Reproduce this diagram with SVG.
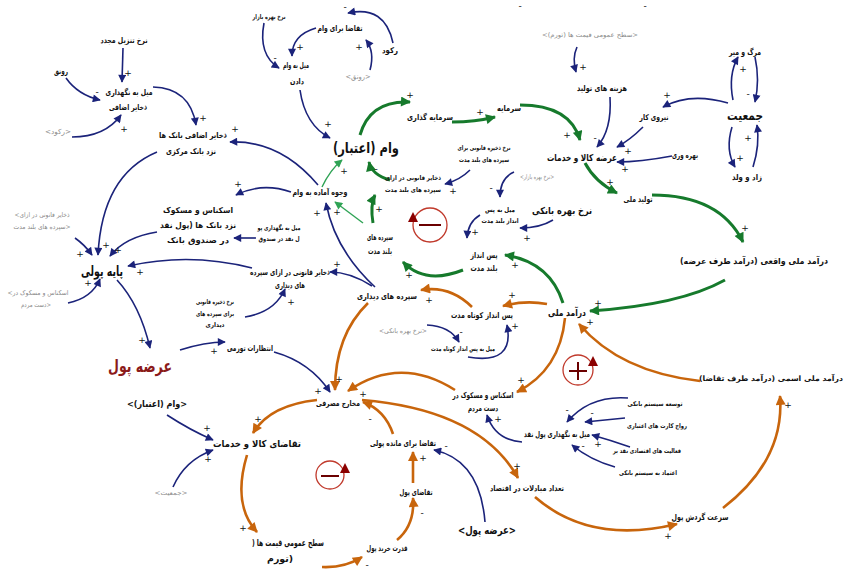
<svg xmlns="http://www.w3.org/2000/svg" width="848" height="572" viewBox="0 0 848 572">
<defs>
<style>
.t{font-family:"DejaVu Sans",sans-serif;text-anchor:middle;dominant-baseline:central;direction:rtl;fill:#111;font-weight:bold;font-size:8px}
.s7{font-size:6.5px}.s9{font-size:8.5px}.m{font-size:9.5px}
.g{fill:#8a8a8a;font-weight:normal;font-size:7px}
.p{font-family:"DejaVu Sans",sans-serif;font-size:9px;text-anchor:middle;dominant-baseline:central;fill:#111}
.b{fill:none;stroke:#1b237a;stroke-width:1.6;marker-end:url(#mb)}
.gr{fill:none;stroke:#167a2c;stroke-width:3;marker-end:url(#mg)}
.gt{fill:none;stroke:#2fa355;stroke-width:1.4;marker-end:url(#mgt)}
.o{fill:none;stroke:#c8650c;stroke-width:2.6;marker-end:url(#mo)}
.lp{fill:none;stroke:#c0392b;stroke-width:1.3}
</style>
<marker id="mb" viewBox="0 0 10 10" refX="9" refY="5" markerWidth="10" markerHeight="8" markerUnits="userSpaceOnUse" orient="auto"><path d="M0,0 L10,5 L0,10 z" fill="#1b237a"/></marker>
<marker id="mg" viewBox="0 0 10 10" refX="9" refY="5" markerWidth="12" markerHeight="10" markerUnits="userSpaceOnUse" orient="auto"><path d="M0,0 L10,5 L0,10 z" fill="#167a2c"/></marker>
<marker id="mgt" viewBox="0 0 10 10" refX="9" refY="5" markerWidth="10" markerHeight="8" markerUnits="userSpaceOnUse" orient="auto"><path d="M0,0 L10,5 L0,10 z" fill="#2fa355"/></marker>
<marker id="mo" viewBox="0 0 10 10" refX="9" refY="5" markerWidth="12" markerHeight="10" markerUnits="userSpaceOnUse" orient="auto"><path d="M0,0 L10,5 L0,10 z" fill="#c8650c"/></marker>
</defs>
<rect width="848" height="572" fill="#fff"/>

<g id="connectors">
<path class="b" d="M123,48 L122,82"/>
<path class="b" d="M66,78 Q78,95 100,100"/>
<path class="b" d="M72,137 Q105,137 121,115"/>
<path class="b" d="M153,87 Q190,88 196,125"/>
<path class="b" d="M157,152 Q102,175 98,255"/>
<path class="b" d="M75,238 Q85,245 92,255"/>
<path class="b" d="M157,232 Q125,237 110,256"/>
<path class="b" d="M68,303 Q92,298 100,279"/>
<path class="b" d="M252,268 Q190,252 128,266"/>
<path class="b" d="M117,280 Q140,305 150,348"/>
<path class="b" d="M180,350 Q205,342 225,342"/>
<path class="b" d="M274,352 Q310,362 330,392"/>
<path class="b" d="M264,23 Q258,55 279,68"/>
<path class="b" d="M316,28 Q292,35 292,56"/>
<path class="b" d="M393,43 Q385,5 348,13"/>
<path class="b" d="M370,70 Q375,52 366,40"/>
<path class="b" d="M300,90 Q305,125 330,138"/>
<path class="b" d="M318,185 Q280,140 230,142"/>
<path class="b" d="M291,192 Q262,182 236,195"/>
<path class="b" d="M256,238 L234,238"/>
<path class="b" d="M375,287 Q335,250 326,203"/>
<path class="b" d="M372,286 Q350,272 330,272"/>
<path class="b" d="M245,317 Q275,312 285,289"/>
<path class="b" d="M470,170 Q460,180 445,184"/>
<path class="b" d="M514,172 Q500,178 500,197"/>
<path class="b" d="M480,215 Q468,222 467,238"/>
<path class="b" d="M553,220 Q540,228 520,228"/>
<path class="b" d="M427,325 Q450,326 459,342"/>
<path class="b" d="M468,357 Q515,365 507,325"/>
<path class="b" d="M577,47 Q572,58 576,72"/>
<path class="b" d="M610,97 Q612,130 597,147"/>
<path class="b" d="M643,127 Q630,140 617,147"/>
<path class="b" d="M672,156 Q640,162 617,162"/>
<path class="b" d="M728,103 Q690,92 663,107"/>
<path class="b" d="M733,100 Q728,75 738,57"/>
<path class="b" d="M755,57 Q760,80 755,102"/>
<path class="b" d="M732,127 Q725,150 735,167"/>
<path class="b" d="M753,167 Q760,145 757,125"/>
<path class="b" d="M522,442 Q495,440 487,415"/>
<path class="b" d="M628,398 Q590,395 567,422"/>
<path class="b" d="M625,418 L585,422"/>
<path class="b" d="M630,447 Q610,440 592,435"/>
<path class="b" d="M615,467 Q590,460 572,445"/>
<path class="b" d="M485,522 Q480,460 434,450"/>
<path class="b" d="M167,415 Q190,430 213,440"/>
<path class="b" d="M173,487 Q185,460 213,450"/>

<path class="gr" d="M360,135 Q370,100 410,102"/>
<path class="gr" d="M452,122 Q475,122 495,117"/>
<path class="gr" d="M520,105 Q570,105 580,140"/>
<path class="gr" d="M585,163 Q595,182 617,193"/>
<path class="gr" d="M652,195 Q720,195 743,242"/>
<path class="gr" d="M725,280 Q680,305 590,311"/>
<path class="gr" d="M563,303 Q550,262 505,255"/>
<path class="gr" d="M463,270 Q425,285 403,262"/>
<path class="gr" d="M373,223 Q370,205 375,195"/>
<path class="gr" d="M390,180 Q372,175 369,162"/>
<path class="gt" d="M363,223 L335,202"/>
<path class="gt" d="M322,187 Q330,170 342,160"/>

<path class="o" d="M547,304 Q525,300 503,306"/>
<path class="o" d="M472,307 Q450,285 421,290"/>
<path class="o" d="M368,303 Q335,335 335,390"/>
<path class="o" d="M565,318 Q560,370 517,392"/>
<path class="o" d="M455,390 Q400,355 348,391"/>
<path class="o" d="M317,400 Q270,405 253,433"/>
<path class="o" d="M362,400 Q480,410 518,478"/>
<path class="o" d="M247,455 Q232,505 257,532"/>
<path class="o" d="M322,567 Q345,568 362,557"/>
<path class="o" d="M397,540 Q415,525 413,498"/>
<path class="o" d="M413,483 L413,452"/>
<path class="o" d="M393,434 Q385,410 363,402"/>
<path class="o" d="M535,497 Q590,545 677,524"/>
<path class="o" d="M723,508 Q785,460 780,396"/>
<path class="o" d="M700,381 Q620,372 579,324"/>
</g>

<g id="polarities">
<text class="p" x="128" y="73">+</text><text class="p" x="97" y="92">-</text><text class="p" x="124" y="129">+</text><text class="p" x="203" y="118">+</text>
<text class="p" x="80" y="254">+</text><text class="p" x="106" y="245">+</text><text class="p" x="118" y="250">+</text><text class="p" x="140" y="272">+</text><text class="p" x="88" y="283">+</text>
<text class="p" x="142" y="340">+</text><text class="p" x="214" y="351">+</text><text class="p" x="318" y="391">+</text>
<text class="p" x="275" y="58">-</text><text class="p" x="300" y="47">+</text><text class="p" x="345" y="7">-</text><text class="p" x="359" y="47">+</text><text class="p" x="328" y="124">+</text>
<text class="p" x="235" y="129">+</text><text class="p" x="238" y="184">+</text><text class="p" x="317" y="213">+</text><text class="p" x="337" y="212">+</text><text class="p" x="337" y="264">+</text><text class="p" x="291" y="302">+</text>
<text class="p" x="453" y="191">+</text><text class="p" x="491" y="188">-</text><text class="p" x="475" y="232">+</text><text class="p" x="527" y="238">+</text>
<text class="p" x="461" y="332">-</text><text class="p" x="515" y="326">+</text>
<text class="p" x="583" y="67">+</text><text class="p" x="595" y="138">-</text><text class="p" x="628" y="151">+</text><text class="p" x="625" y="169">+</text>
<text class="p" x="667" y="95">+</text><text class="p" x="743" y="69">+</text><text class="p" x="748" y="94">-</text><text class="p" x="740" y="158">+</text><text class="p" x="748" y="138">+</text>
<text class="p" x="498" y="419">+</text><text class="p" x="567" y="410">-</text><text class="p" x="592" y="413">-</text><text class="p" x="598" y="444">+</text><text class="p" x="583" y="446">-</text>
<text class="p" x="446" y="446">-</text><text class="p" x="207" y="428">+</text><text class="p" x="208" y="459">+</text>
<text class="p" x="410" y="95">+</text><text class="p" x="480" y="112">+</text><text class="p" x="567" y="135">+</text><text class="p" x="610" y="182">+</text><text class="p" x="745" y="228">+</text>
<text class="p" x="598" y="303">+</text><text class="p" x="515" y="265">+</text><text class="p" x="409" y="275">+</text><text class="p" x="379" y="209">+</text><text class="p" x="376" y="169">-</text><text class="p" x="344" y="171">+</text>
<text class="p" x="512" y="295">+</text><text class="p" x="429" y="300">+</text><text class="p" x="339" y="379">+</text><text class="p" x="521" y="380">+</text><text class="p" x="363" y="394">+</text>
<text class="p" x="258" y="419">+</text><text class="p" x="517" y="466">+</text><text class="p" x="243" y="528">+</text><text class="p" x="367" y="565">-</text><text class="p" x="422" y="513">-</text>
<text class="p" x="423" y="458">+</text><text class="p" x="370" y="419">-</text><text class="p" x="668" y="536">+</text><text class="p" x="788" y="405">+</text><text class="p" x="590" y="322">+</text>
<text class="p" x="520" y="6">-</text><text class="p" x="645" y="6">-</text>
</g>

<g id="loops">
<g id="loop-b1"><circle class="lp" cx="430" cy="225" r="17"/><path d="M408,222 L413,212 L418,222 z" fill="#8b0000"/><path d="M419,225 H441" stroke="#6b0000" stroke-width="2"/></g>
<g id="loop-r1"><circle class="lp" cx="578" cy="370" r="15"/><path d="M588,366 L593,356 L598,366 z" fill="#8b0000"/><path d="M569,371 H587 M578,362 V380" stroke="#6b0000" stroke-width="2"/></g>
<g id="loop-b2"><circle class="lp" cx="330" cy="475" r="14"/><path d="M340,473 L345,463 L350,473 z" fill="#8b0000"/><path d="M321,476 H339" stroke="#6b0000" stroke-width="2"/></g>
</g>

<g id="n1"><text class="t" x="124" y="40" textLength="47" lengthAdjust="spacingAndGlyphs">نرخ تنزیل مجدد</text></g>
<g id="n2"><text class="t" x="61" y="71" textLength="14" lengthAdjust="spacingAndGlyphs">رونق</text></g>
<g id="n3"><text class="t" x="129" y="92" textLength="47" lengthAdjust="spacingAndGlyphs">میل به نگهداری</text><text class="t" x="128" y="107" textLength="38" lengthAdjust="spacingAndGlyphs">ذخایر اضافی</text></g>
<g id="n4"><text class="t g" x="58" y="132" textLength="26" lengthAdjust="spacingAndGlyphs">&lt;رکود&gt;</text></g>
<g id="n5"><text class="t" x="193" y="135" textLength="68" lengthAdjust="spacingAndGlyphs">ذخایر اضافی بانک ها</text><text class="t" x="191" y="151" textLength="50" lengthAdjust="spacingAndGlyphs">نزد بانک مرکزی</text></g>
<g id="n6"><text class="t s7" x="269" y="17" textLength="33" lengthAdjust="spacingAndGlyphs">نرخ بهره بازار</text></g>
<g id="n7"><text class="t" x="340" y="28" textLength="45" lengthAdjust="spacingAndGlyphs">تقاضا برای وام</text></g>
<g id="n8"><text class="t" x="390" y="50" textLength="16" lengthAdjust="spacingAndGlyphs">رکود</text></g>
<g id="n9"><text class="t" x="296" y="65" textLength="26" lengthAdjust="spacingAndGlyphs">میل به وام</text><text class="t" x="297" y="81" textLength="14" lengthAdjust="spacingAndGlyphs">دادن</text></g>
<g id="n10"><text class="t g" x="358" y="77" textLength="25" lengthAdjust="spacingAndGlyphs">&lt;رونق&gt;</text></g>
<g id="n11"><text class="t" style="font-size:15px" x="366" y="148" textLength="66" lengthAdjust="spacingAndGlyphs">وام (اعتبار)</text></g>
<g id="n12"><text class="t" x="430" y="117" textLength="46" lengthAdjust="spacingAndGlyphs">سرمایه گذاری</text></g>
<g id="n13"><text class="t" x="509" y="108" textLength="24" lengthAdjust="spacingAndGlyphs">سرمایه</text></g>
<g id="n14"><text class="t g" style="font-size:6.5px" x="590" y="35" textLength="96" lengthAdjust="spacingAndGlyphs">&lt;سطح عمومی قیمت ها (تورم)&gt;</text></g>
<g id="n15"><text class="t s9" x="602" y="88" textLength="50" lengthAdjust="spacingAndGlyphs">هزینه های تولید</text></g>
<g id="n16"><text class="t m" x="582" y="157" textLength="70" lengthAdjust="spacingAndGlyphs">عرضه کالا و خدمات</text></g>
<g id="n17"><text class="t" x="654" y="117" textLength="29" lengthAdjust="spacingAndGlyphs">نیروی کار</text></g>
<g id="n18"><text class="t" x="685" y="155" textLength="26" lengthAdjust="spacingAndGlyphs">بهره وری</text></g>
<g id="n19"><text class="t" style="font-size:13px" x="745" y="115" textLength="36" lengthAdjust="spacingAndGlyphs">جمعیت</text></g>
<g id="n20"><text class="t" x="745" y="52" textLength="32" lengthAdjust="spacingAndGlyphs">مرگ و میر</text></g>
<g id="n21"><text class="t" x="747" y="177" textLength="30" lengthAdjust="spacingAndGlyphs">زاد و ولد</text></g>
<g id="n22"><text class="t" x="638" y="199" textLength="29" lengthAdjust="spacingAndGlyphs">تولید ملی</text></g>
<g id="n23"><text class="t" style="font-size:8.5px" x="754" y="261" textLength="148" lengthAdjust="spacingAndGlyphs">درآمد ملی واقعی (درآمد طرف عرضه)</text></g>
<g id="n24"><text class="t s7" x="484" y="148" textLength="53" lengthAdjust="spacingAndGlyphs">نرخ ذخیره قانونی برای</text><text class="t s7" x="484" y="160" textLength="50" lengthAdjust="spacingAndGlyphs">سپرده های بلند مدت</text></g>
<g id="n25"><text class="t g" style="font-size:6.5px" x="537" y="177" textLength="34" lengthAdjust="spacingAndGlyphs">&lt;نرخ بهره بازار&gt;</text></g>
<g id="n26"><text class="t s7" x="413" y="178" textLength="56" lengthAdjust="spacingAndGlyphs">ذخایر قانونی در ازای</text><text class="t s7" x="413" y="190" textLength="56" lengthAdjust="spacingAndGlyphs">سپرده های بلند مدت</text></g>
<g id="n27"><text class="t" x="320" y="192" textLength="55" lengthAdjust="spacingAndGlyphs">وجوه آماده به وام</text></g>
<g id="n28"><text class="t s7" x="500" y="210" textLength="30" lengthAdjust="spacingAndGlyphs">میل به پس</text><text class="t s7" x="500" y="221" textLength="37" lengthAdjust="spacingAndGlyphs">انداز بلند مدت</text></g>
<g id="n29"><text class="t m" x="562" y="210" textLength="60" lengthAdjust="spacingAndGlyphs">نرخ بهره بانکی</text></g>
<g id="n30"><text class="t" x="380" y="237" textLength="26" lengthAdjust="spacingAndGlyphs">سپرده های</text><text class="t" x="380" y="251" textLength="24" lengthAdjust="spacingAndGlyphs">بلند مدت</text></g>
<g id="n31"><text class="t" x="484" y="255" textLength="27" lengthAdjust="spacingAndGlyphs">پس انداز</text><text class="t" x="484" y="268" textLength="27" lengthAdjust="spacingAndGlyphs">بلند مدت</text></g>
<g id="n32"><text class="t" x="198" y="210" textLength="70" lengthAdjust="spacingAndGlyphs">اسکناس و مسکوک</text><text class="t" x="198" y="225" textLength="76" lengthAdjust="spacingAndGlyphs">نزد بانک ها (پول نقد</text><text class="t" x="198" y="240" textLength="62" lengthAdjust="spacingAndGlyphs">در صندوق بانک</text></g>
<g id="n33"><text class="t s7" x="279" y="228" textLength="43" lengthAdjust="spacingAndGlyphs">میل به نگهداری پو</text><text class="t s7" x="279" y="239" textLength="41" lengthAdjust="spacingAndGlyphs">ل نقد در صندوق</text></g>
<g id="n34"><text class="t" style="font-size:14px" x="102" y="271" textLength="42" lengthAdjust="spacingAndGlyphs">پایه پولی</text></g>
<g id="n35"><text class="t g" style="font-size:6.5px" x="42" y="215" textLength="55" lengthAdjust="spacingAndGlyphs">ذخایر قانونی در ازای&gt;</text><text class="t g" style="font-size:6.5px" x="42" y="227" textLength="57" lengthAdjust="spacingAndGlyphs">&lt;سپرده های بلند مدت</text></g>
<g id="n36"><text class="t g" style="font-size:6.5px" x="38" y="293" textLength="61" lengthAdjust="spacingAndGlyphs">اسکناس و مسکوک در&gt;</text><text class="t g" style="font-size:6.5px" x="36" y="305" textLength="30" lengthAdjust="spacingAndGlyphs">&lt;دست مردم</text></g>
<g id="n37"><text class="t" x="290" y="272" textLength="80" lengthAdjust="spacingAndGlyphs">ذخایر قانونی در ازای سپرده</text><text class="t" x="290" y="285" textLength="30" lengthAdjust="spacingAndGlyphs">های دیداری</text></g>
<g id="n38"><text class="t" x="387" y="296" textLength="60" lengthAdjust="spacingAndGlyphs">سپرده های دیداری</text></g>
<g id="n39"><text class="t s7" x="215" y="302" textLength="38" lengthAdjust="spacingAndGlyphs">نرخ ذخیره قانونی</text><text class="t s7" x="215" y="314" textLength="38" lengthAdjust="spacingAndGlyphs">برای سپرده های</text><text class="t s7" x="215" y="325" textLength="19" lengthAdjust="spacingAndGlyphs">دیداری</text></g>
<g id="n40"><text class="t s9" x="250" y="348" textLength="46" lengthAdjust="spacingAndGlyphs">انتظارات تورمی</text></g>
<g id="n41"><text class="t" style="font-size:17px;fill:#8b1a1a" x="140" y="366" textLength="64" lengthAdjust="spacingAndGlyphs">عرضه پول</text></g>
<g id="n42"><text class="t m" x="567" y="312" textLength="38" lengthAdjust="spacingAndGlyphs">درآمد ملی</text></g>
<g id="n43"><text class="t" x="482" y="315" textLength="62" lengthAdjust="spacingAndGlyphs">پس انداز کوتاه مدت</text></g>
<g id="n44"><text class="t g" style="font-size:6.5px" x="403" y="331" textLength="48" lengthAdjust="spacingAndGlyphs">&lt;نرخ بهره بانکی&gt;</text></g>
<g id="n45"><text class="t s7" x="463" y="349" textLength="64" lengthAdjust="spacingAndGlyphs">میل به پس انداز کوتاه مدت</text></g>
<g id="n46"><text class="t" style="font-size:7.5px" x="771" y="378" textLength="144" lengthAdjust="spacingAndGlyphs">درآمد ملی اسمی (درآمد طرف تقاضا)</text></g>
<g id="n47"><text class="t" x="338" y="403" textLength="44" lengthAdjust="spacingAndGlyphs">مخارج مصرفی</text></g>
<g id="n48"><text class="t" x="483" y="395" textLength="61" lengthAdjust="spacingAndGlyphs">اسکناس و مسکوک در</text><text class="t" x="483" y="408" textLength="30" lengthAdjust="spacingAndGlyphs">دست مردم</text></g>
<g id="n49"><text class="t s7" x="655" y="404" textLength="55" lengthAdjust="spacingAndGlyphs">توسعه سیستم بانکی</text></g>
<g id="n50"><text class="t s7" x="657" y="426" textLength="60" lengthAdjust="spacingAndGlyphs">رواج کارت های اعتباری</text></g>
<g id="n51"><text class="t" x="557" y="434" textLength="66" lengthAdjust="spacingAndGlyphs">میل به نگهداری پول نقد</text></g>
<g id="n52"><text class="t s7" x="647" y="451" textLength="68" lengthAdjust="spacingAndGlyphs">فعالیت های اقتصادی نقد بر</text></g>
<g id="n53"><text class="t s7" x="648" y="473" textLength="58" lengthAdjust="spacingAndGlyphs">اعتماد به سیستم بانکی</text></g>
<g id="n54"><text class="t m" x="157" y="403" textLength="60" lengthAdjust="spacingAndGlyphs">&lt;وام (اعتبار)&gt;</text></g>
<g id="n55"><text class="t m" x="257" y="443" textLength="88" lengthAdjust="spacingAndGlyphs">تقاضای کالا و خدمات</text></g>
<g id="n56"><text class="t" x="403" y="443" textLength="66" lengthAdjust="spacingAndGlyphs">تقاضا برای مانده پولی</text></g>
<g id="n57"><text class="t g" style="font-size:6.5px" x="171" y="493" textLength="33" lengthAdjust="spacingAndGlyphs">&lt;جمعیت&gt;</text></g>
<g id="n58"><text class="t" x="527" y="488" textLength="74" lengthAdjust="spacingAndGlyphs">تعداد مبادلات در اقتصاد</text></g>
<g id="n59"><text class="t" x="416" y="492" textLength="33" lengthAdjust="spacingAndGlyphs">تقاضای پول</text></g>
<g id="n60"><text class="t" style="font-size:11px" x="487" y="530" textLength="58" lengthAdjust="spacingAndGlyphs">&lt;عرضه پول&gt;</text></g>
<g id="n61"><text class="t m" x="288" y="542" textLength="72" lengthAdjust="spacingAndGlyphs">سطح عمومی قیمت ها (</text><text class="t m" x="280" y="558" textLength="26" lengthAdjust="spacingAndGlyphs">(تورم</text></g>
<g id="n62"><text class="t" x="387" y="548" textLength="41" lengthAdjust="spacingAndGlyphs">قدرت خرید پول</text></g>
<g id="n63"><text class="t s9" x="700" y="517" textLength="57" lengthAdjust="spacingAndGlyphs">سرعت گردش پول</text></g>
</svg>
